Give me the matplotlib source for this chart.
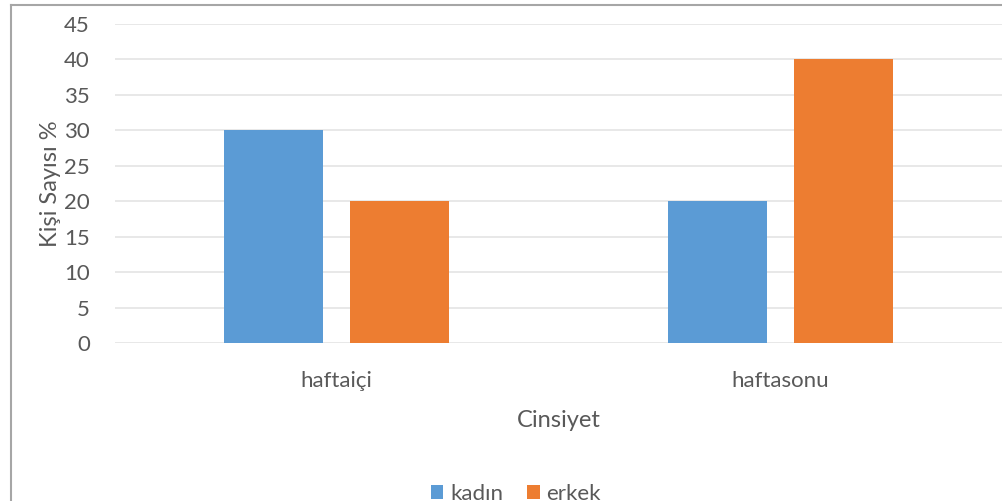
import numpy as np
import matplotlib.pyplot as plt
from matplotlib.lines import Line2D

categories = ["haftaiçi", "haftasonu"]
kadin = [30, 20]
erkek = [20, 40]
series_names = ["kadın", "erkek"]
colors = ["#5B9BD5", "#ED7D31"]
y_ticks = [0, 5, 10, 15, 20, 25, 30, 35, 40, 45]

plt.rcParams['font.family'] = ['Lato', 'DejaVu Sans']
text_col = "#595959"

fig = plt.figure(figsize=(10.02, 5.01), dpi=100)
ax = fig.add_axes([115 / 1002, 1 - 343 / 501, 887 / 1002, 319 / 501])

x = np.arange(len(categories))
w = 0.223
ax.bar(x - 0.142, kadin, w, color=colors[0], label=series_names[0], zorder=3)
ax.bar(x + 0.142, erkek, w, color=colors[1], label=series_names[1], zorder=3)

ax.set_xlim(-0.5, len(categories) - 0.5)
ax.set_ylim(0, 45)
ax.set_yticks(y_ticks)
ax.set_xticks(x)
ax.set_xticklabels(categories)
ax.tick_params(axis='both', length=0, labelsize=16, colors=text_col)
ax.tick_params(axis='x', pad=20)
ax.tick_params(axis='y', pad=18)
ax.yaxis.grid(True, color="#E4E4E4", linewidth=1.2, zorder=0)
for s in ax.spines.values():
    s.set_visible(False)

ax.set_ylabel("Kişi Sayısı %", fontsize=17, color=text_col, labelpad=2)
ax.set_xlabel("Cinsiyet", fontsize=17, color=text_col, labelpad=14)

# outer chart border (top and left visible)
fig.add_artist(Line2D([11 / 1002, 1], [1 - 5 / 501, 1 - 5 / 501], color="#A6A6A6", lw=1.5))
fig.add_artist(Line2D([11 / 1002, 11 / 1002], [0, 1 - 5 / 501], color="#A6A6A6", lw=1.5))

fig.legend(loc='center', bbox_to_anchor=(516 / 1002, 1 - 494 / 501), ncol=2, frameon=False,
           fontsize=16, handlelength=0.55, handleheight=0.55, handletextpad=0.3,
           columnspacing=1.1, labelcolor=text_col)

fig.savefig("out.png", dpi=100)
